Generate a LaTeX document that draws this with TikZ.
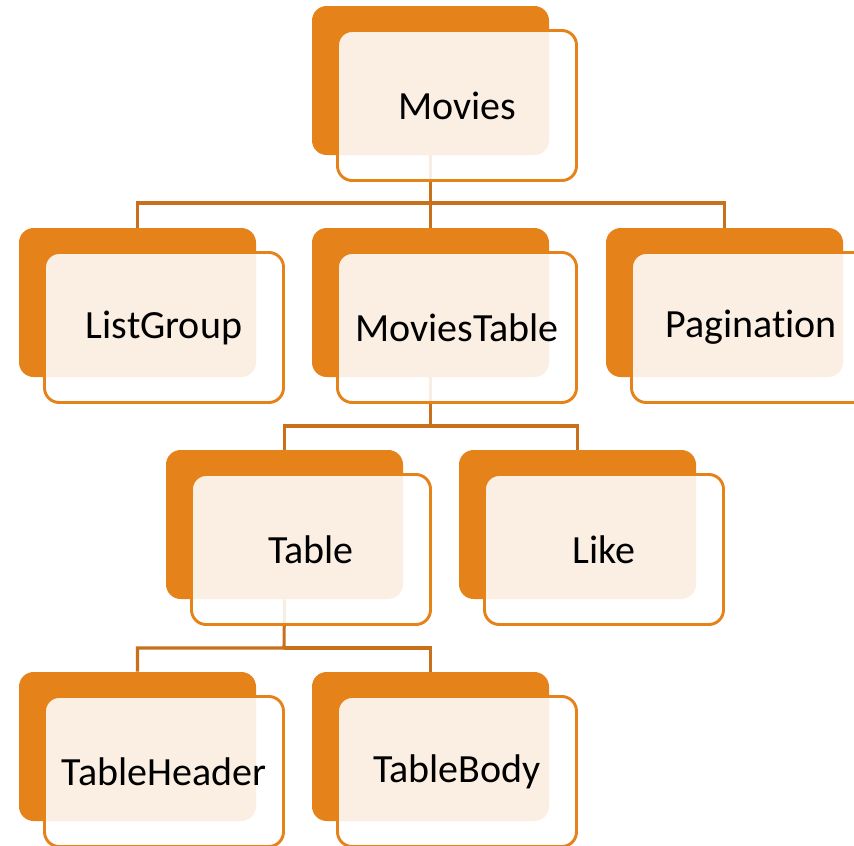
\documentclass[tikz,border=0pt]{standalone}
\usepackage{fontspec}
\setmainfont{Carlito}[Ligatures={NoCommon,NoRare,NoContextual}]
\usetikzlibrary{backgrounds}
\definecolor{orng}{RGB}{230,130,26}
\definecolor{conn}{RGB}{200,112,28}
\tikzset{
  backbox/.style={rectangle, rounded corners=11pt, fill=orng, draw=none,
    minimum width=177.75pt, minimum height=111.75pt, inner sep=0pt},
  frontbox/.style={rectangle, rounded corners=11pt, fill=white, fill opacity=0.88,
    text opacity=1, draw=orng, draw opacity=1, line width=2.2pt,
    minimum width=179.25pt, minimum height=112.5pt, inner sep=0pt,
    font=\fontsize{30pt}{36pt}\selectfont},
  link/.style={draw=conn, line width=2.3pt}
}
\newcommand\elem[4]{%
  \node[backbox] (#1b) at (#2+118.5,#3+74.5) {};
  \node[frontbox] (#1) at (#2+145,#3+99.5) {#4};
}
\begin{document}
\begin{tikzpicture}[x=0.75pt,y=-0.75pt]
\useasboundingbox (0,0) rectangle (854,846);
\clip (0,0) rectangle (854,846);
\elem{movies}{312}{6}{Movies}
\elem{listgroup}{19}{228}{ListGroup}
\elem{moviestable}{312}{228}{MoviesTable}
\elem{pagination}{606}{228}{Paginat\kern0pt ion}
\elem{table}{166}{450}{Table}
\elem{like}{459}{450}{Like}
\elem{tableheader}{19}{672}{TableHeader}
\elem{tablebody}{312}{672}{TableBody}
\begin{scope}[on background layer]
  \coordinate (j1) at (430.5,203);
  \coordinate (j2) at (430.5,426);
  \coordinate (j3) at (284,648);
  \draw[link] (moviesb.south) -- (j1) -| (listgroupb.north);
  \draw[link] (j1) -| (moviestableb.north);
  \draw[link] (j1) -| (paginationb.north);
  \draw[link] (moviestableb.south) -- (j2) -| (tableb.north);
  \draw[link] (j2) -| (likeb.north);
  \draw[link] (tableb.south) -- (j3) -| (tableheaderb.north);
  \draw[link] (j3) -| (tablebodyb.north);
\end{scope}
\end{tikzpicture}
\end{document}
